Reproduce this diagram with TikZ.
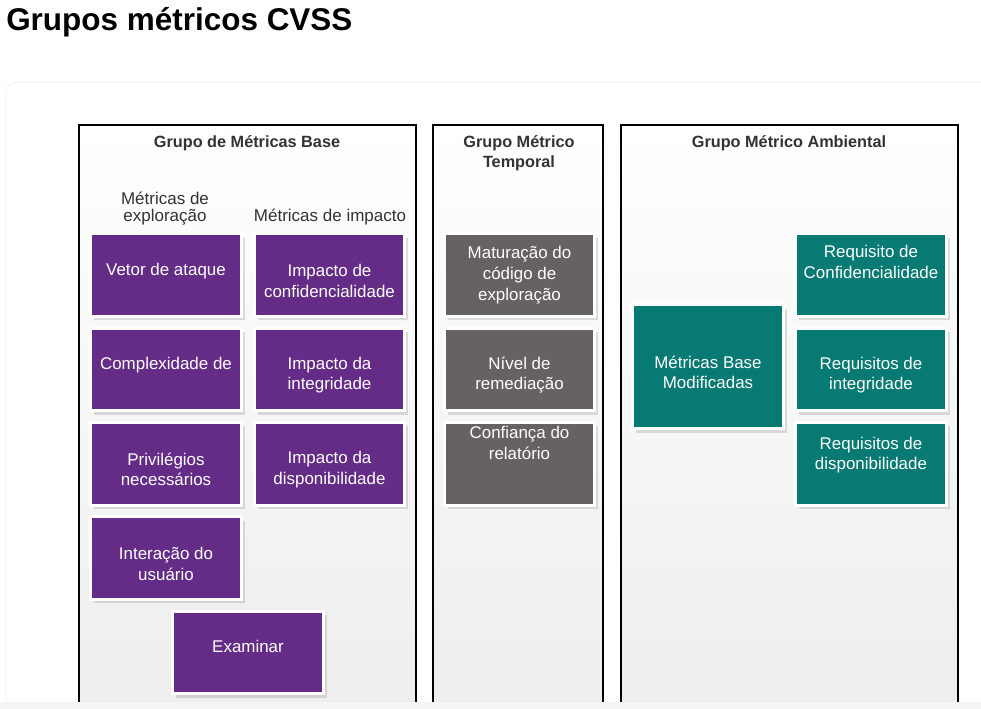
\documentclass[tikz,border=0pt]{standalone}
\usepackage{fontspec}
\setmainfont{Liberation Sans}
\usetikzlibrary{positioning,shadows}

\definecolor{roxo}{RGB}{101,44,135}
\definecolor{cinza}{RGB}{102,97,98}
\definecolor{verde}{RGB}{8,122,116}
\definecolor{escuro}{RGB}{51,51,51}
\definecolor{faixa}{RGB}{244,245,247}

\tikzset{
  caixa/.style={draw=white, line width=2.25pt, minimum width=113pt, minimum height=62pt,
    inner sep=0pt, align=center, text=white, font=\fontsize{12.7}{15.5}\selectfont,
    drop shadow={shadow xshift=2.5pt, shadow yshift=-3pt, opacity=0.25}},
  base/.style={caixa, fill=roxo},
  temporal/.style={caixa, fill=cinza},
  ambiental/.style={caixa, fill=verde},
  uma/.style={text depth=9pt},
  duas/.style={text height=33.5pt},
  painel/.style={draw=black, line width=0.9pt, top color=white, bottom color=black!7},
  cabecalho/.style={font=\bfseries\fontsize{12.2}{15}\selectfont, text=escuro, align=center},
  subtitulo/.style={font=\fontsize{12.75}{12.75}\selectfont, text=escuro, align=center},
}

\begin{document}
\begin{tikzpicture}[x=0.75pt, y=-0.75pt, node distance=6.5pt]
\useasboundingbox (0,0) rectangle (981,709);
% title and card
\node [anchor=base west, inner sep=0pt, font=\bfseries\fontsize{23.6}{28}\selectfont] (titulo) at (6,31) {Grupos métricos CVSS};
\draw [draw=black!7, fill=white, rounded corners=8] (6,82) rectangle (995,720);
% the three groups
\draw [painel] (79,125) rectangle (416,712);
\draw [painel] (433,125) rectangle (603,712);
\draw [painel] (621,125) rectangle (958,712);
\node [cabecalho] (gbase) at (247,143) {Grupo de Métricas Base};
\node [cabecalho] (gtemp) at (519,153) {Grupo Métrico\\Temporal};
\node [cabecalho] (gamb) at (789,143) {Grupo Métrico Ambiental};
\node [subtitulo] (explo) at (165,209) {Métricas de\\exploração};
\node [subtitulo] (impac) at (330,217) {Métricas de impacto};
% base
\node [base, uma] (vetor) at (166,275) {Vetor de ataque};
\node [base, uma, below=of vetor] (complex) {Complexidade de};
\node [base, duas, below=of complex] (privil) {Privilégios\\necessários};
\node [base, duas, below=of privil] (interac) {Interação do\\usuário};
\node [base, uma] (examinar) at (248,652.5) {Examinar};
\node [base, duas] (iconf) at (329.5,275) {Impacto de\\confidencialidade};
\node [base, duas, below=of iconf] (iinteg) {Impacto da\\integridade};
\node [base, duas, below=of iinteg] (idisp) {Impacto da\\disponibilidade};
% temporal
\node [temporal] (matur) at (519.5,275) {Maturação do\\código de\\exploração};
\node [temporal, duas, below=of matur] (remed) {Nível de\\remediação};
\node [temporal, below=of remed] (confi) {Confiança do\\relatório\\~\\~};
% ambiental
\node [ambiental, duas, minimum height=93pt] (modif) at (708,366.5) {Métricas Base\\Modificadas};
\node [ambiental, text depth=4pt] (rconf) at (871,275) {Requisito de\\Confidencialidade\\~};
\node [ambiental, duas, below=of rconf] (rinteg) {Requisitos de\\integridade};
\node [ambiental, below=of rinteg] (rdisp) {Requisitos de\\disponibilidade\\~};
% bottom strip
\fill [faixa] (0,702) rectangle (981,709);
\end{tikzpicture}
\end{document}
